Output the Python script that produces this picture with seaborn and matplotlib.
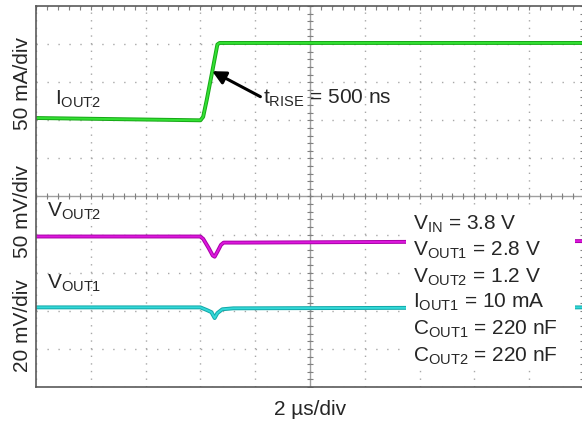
import numpy as np
import pandas as pd
import matplotlib
matplotlib.use('Agg')
import matplotlib.pyplot as plt
from matplotlib.patches import Rectangle
import seaborn as sns

# Scope capture. Time in us, each channel relative to its own baseline.
t_iout2 = [0, 3.0, 6.0, 6.1, 6.23, 6.43, 6.62, 6.7, 12.0, 20.0]
i_out2 = [1.5, 0, -1.5, 3, 25, 62, 98, 100, 100, 100]          # mA

t_vout2 = [0, 5.99, 6.1, 6.3, 6.45, 6.52, 6.62, 6.75, 6.85, 7.5, 20.0]
v_out2 = [0, 0, -3, -15, -25, -26.5, -20, -11, -8, -8, -6]      # mV

t_vout1 = [0, 6.0, 6.25, 6.4, 6.52, 6.62, 6.8, 7.2, 20.0]
v_out1 = [0, 0, -1.5, -2.5, -5.6, -3, -1, -0.5, 0]             # mV

# channel settings: volts(amps)/div and where the baseline sits on screen (div from bottom)
ch_scale = {'I_OUT2': 50, 'V_OUT2': 50, 'V_OUT1': 20}
ch_offset = {'I_OUT2': 7.03, 'V_OUT2': 3.95, 'V_OUT1': 2.09}
ch_color = {'I_OUT2': ('#16a816', '#33e033'),
            'V_OUT2': ('#a800a8', '#dd18dd'),
            'V_OUT1': ('#10a8a8', '#33d8d8')}

conditions = [r'$\mathrm{V_{IN}}$ = 3.8 V',
              r'$\mathrm{V_{OUT1}}$ = 2.8 V',
              r'$\mathrm{V_{OUT2}}$ = 1.2 V',
              r'$\mathrm{I_{OUT1}}$ = 10 mA',
              r'$\mathrm{C_{OUT1}}$ = 220 nF',
              r'$\mathrm{C_{OUT2}}$ = 220 nF']

sns.set_style('white')
plt.rcParams['font.family'] = ['Liberation Sans', 'DejaVu Sans']
plt.rcParams['mathtext.fontset'] = 'custom'
plt.rcParams['mathtext.rm'] = 'Liberation Sans'
plt.rcParams['mathtext.it'] = 'Liberation Sans:italic'
plt.rcParams['mathtext.bf'] = 'Liberation Sans:bold'

W, H = 582, 423
fig = plt.figure(figsize=(W / 100, H / 100), dpi=100)
ax = fig.add_axes([36 / W, 36 / H, 548 / W, 381 / H])
ax.set_xlim(0, 20)
ax.set_ylim(0, 10)

# graticule
ax.set_xticks(np.arange(0, 20.01, 2))
ax.set_xticks(np.arange(0, 20.01, 0.4), minor=True)
ax.set_yticks(np.arange(0, 10.01, 1))
ax.set_yticks(np.arange(0, 10.01, 0.2), minor=True)
ax.set_axisbelow(True)
ax.grid(which='major', axis='x', color='#a8a8a8', lw=1.0, linestyle=(0, (1.0, 4.49)))
ax.grid(which='major', axis='y', color='#a8a8a8', lw=1.0, linestyle=(0, (1.0, 6.89)))
ax.tick_params(which='both', direction='in', top=True, right=True, length=3.2,
               width=0.8, color='#808080', labelbottom=False, labelleft=False)
for s in ax.spines.values():
    s.set_color('#5a5a5a')
    s.set_linewidth(1.2)

ax.axhline(5, color='#a0a0a0', lw=1.0, zorder=1.5)
ax.axvline(10, color='#a0a0a0', lw=1.0, zorder=1.5)
xm = np.arange(0, 20.01, 0.4)
ym = np.arange(0, 10.01, 0.2)
ax.plot(xm, np.full_like(xm, 5), ls='none', marker='|', ms=5, mew=0.8, color='#808080', zorder=1.5)
ax.plot(np.full_like(ym, 10), ym, ls='none', marker='_', ms=5, mew=0.8, color='#808080', zorder=1.5)

# traces
traces = {'I_OUT2': (t_iout2, i_out2), 'V_OUT2': (t_vout2, v_out2), 'V_OUT1': (t_vout1, v_out1)}
for name, (t, v) in traces.items():
    df = pd.DataFrame({'t': t, 'div': ch_offset[name] + np.array(v) / ch_scale[name]})
    dark, bright = ch_color[name]
    sns.lineplot(data=df, x='t', y='div', ax=ax, color=dark, lw=2.8, zorder=2)
    sns.lineplot(data=df, x='t', y='div', ax=ax, color=bright, lw=1.4, zorder=2.1)
ax.set_xlabel('')
ax.set_ylabel('')

fs = 15
ax.text(0.69, 7.4, r'$\mathrm{I_{OUT2}}$', fontsize=fs, zorder=5)
ax.text(0.39, 4.47, r'$\mathrm{V_{OUT2}}$', fontsize=fs, zorder=5)
ax.text(0.39, 2.59, r'$\mathrm{V_{OUT1}}$', fontsize=fs, zorder=5)

ax.annotate('', xy=(6.43, 8.29), xytext=(8.19, 7.62),
            arrowprops=dict(arrowstyle='-|>', lw=2.2, color='black', mutation_scale=20,
                            shrinkA=0, shrinkB=0), zorder=5)
ax.text(8.28, 7.44, r'$\mathrm{t_{RISE}}$ = 500 ns', fontsize=fs, zorder=5)

# conditions box
ax.add_patch(Rectangle((13.5, 0.45), 6.17, 4.3, facecolor='white', edgecolor='none', zorder=4))
baselines = [4.14, 3.44, 2.75, 2.07, 1.36, 0.66]
for yb, s in zip(baselines, conditions):
    ax.text(13.77, yb, s, fontsize=fs, zorder=5)

# channel scale labels
fig.text(23 / W, 1 - 83 / H, '50 mA/div', rotation=90, ha='center', va='center', fontsize=fs)
fig.text(23 / W, 1 - 211 / H, '50 mV/div', rotation=90, ha='center', va='center', fontsize=fs)
fig.text(23 / W, 1 - 326 / H, '20 mV/div', rotation=90, ha='center', va='center', fontsize=fs)
fig.text(310 / W, 1 - 409 / H, '2 µs/div', ha='center', va='center', fontsize=fs)

fig.savefig('out.png', dpi=100)
